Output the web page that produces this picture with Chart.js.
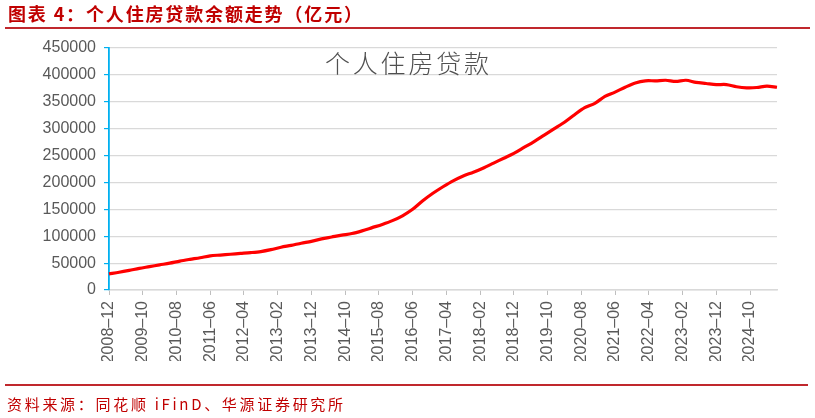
<!DOCTYPE html>
<html>
<head>
<meta charset="utf-8">
<script src="https://cdn.jsdelivr.net/npm/chart.js@4.4.1/dist/chart.umd.min.js"></script>
<style>
  html, body { margin: 0; padding: 0; background: #ffffff; }
  #page { position: relative; width: 815px; height: 418px; overflow: hidden; background: #fff; }
  #chartBox { position: absolute; left: 0; top: 0; width: 815px; height: 418px; }
  .title { position: absolute; left: 8px; top: 2px; font-family: "Noto Sans CJK SC", sans-serif; font-weight: 700; font-size: 18px; line-height: 23px; letter-spacing: 1.85px; color: #c00000; white-space: nowrap; z-index: 2; }
  .rule { position: absolute; left: 5px; width: 805px; height: 2px; background: #c0282d; z-index: 2; }
  .source { position: absolute; left: 7px; top: 394px; font-family: "Noto Sans CJK SC", sans-serif; font-size: 15px; line-height: 20px; letter-spacing: 2.7px; color: #c00000; white-space: nowrap; z-index: 2; }
  .inner { position: absolute; left: 325px; top: 47px; font-family: "Noto Sans CJK SC", sans-serif; font-weight: 300; font-size: 25px; line-height: 30px; letter-spacing: 2.8px; color: #505050; white-space: nowrap; z-index: 2; }
</style>
</head>
<body>
<div id="page">
  <div id="chartBox"><canvas id="c"></canvas></div>
  <div class="title">图表 4：个人住房贷款余额走势（亿元）</div>
  <div class="rule" style="top:27px;"></div>
  <div class="inner">个人住房贷款</div>
  <div class="rule" style="top:384px; width:803px;"></div>
  <div class="source">资料来源：同花顺 iFinD、华源证券研究所</div>
</div>
<script>
// Category range (monthly), first and last month
const startYear = 2008, startMonth = 12;
const endYear = 2025, endMonth = 6;

// Quarter-end dates with data
const quarterLabels = [
  "2008–12","2009–03","2009–06","2009–09","2009–12","2010–03","2010–06","2010–09","2010–12",
  "2011–03","2011–06","2011–09","2011–12","2012–03","2012–06","2012–09","2012–12",
  "2013–03","2013–06","2013–09","2013–12","2014–03","2014–06","2014–09","2014–12",
  "2015–03","2015–06","2015–09","2015–12","2016–03","2016–06","2016–09","2016–12",
  "2017–03","2017–06","2017–09","2017–12","2018–03","2018–06","2018–09","2018–12",
  "2019–03","2019–06","2019–09","2019–12","2020–03","2020–06","2020–09","2020–12",
  "2021–03","2021–06","2021–09","2021–12","2022–03","2022–06","2022–09","2022–12",
  "2023–03","2023–06","2023–09","2023–12","2024–03","2024–06","2024–09","2024–12",
  "2025–03","2025–06"
];

// 个人住房贷款余额（亿元）
const loanBalance = [
  30000, 33000, 36500, 40300, 43500, 46800, 50000, 53800, 57000,
  60000, 63500, 65000, 66500, 68000, 69500, 71500, 75000,
  79500, 83000, 87000, 90500, 95000, 98500, 102000, 105000,
  110000, 116000, 122000, 129000, 138000, 150000, 166000, 180000,
  192000, 203000, 212000, 219000, 227000, 236000, 245000, 254000,
  265000, 276000, 288000, 300000, 312000, 326000, 339000, 347000,
  360000, 368000, 377000, 385000, 389000, 389000, 390000, 388000,
  390000, 386000, 384000, 382000, 382000, 378000, 376000, 376500,
  379000, 377000
];

// Y tick values
const yTicks = [0, 50000, 100000, 150000, 200000, 250000, 300000, 350000, 400000, 450000];

// Build monthly category labels
const monthLabels = [];
{
  let y = startYear, m = startMonth;
  while (y < endYear || (y === endYear && m <= endMonth)) {
    monthLabels.push(y + "–" + String(m).padStart(2, "0"));
    m++; if (m > 12) { m = 1; y++; }
  }
}

const points = quarterLabels.map((l, k) => ({ x: l, y: loanBalance[k] }));

const tickFont = { family: "'Liberation Sans', Arial, sans-serif", size: 16 };

new Chart(document.getElementById("c"), {
  type: "line",
  data: {
    labels: monthLabels,
    datasets: [{
      label: "个人住房贷款",
      data: points,
      borderColor: "#ff0000",
      borderWidth: 3.2,
      pointRadius: 0,
      tension: 0.3,
      fill: false
    }]
  },
  options: {
    responsive: true,
    maintainAspectRatio: false,
    animation: false,
    layout: { padding: { left: 0, top: 48, right: 38, bottom: 57 } },
    plugins: { legend: { display: false }, tooltip: { enabled: false } },
    scales: {
      x: {
        type: "category",
        offset: false,
        afterBuildTicks: (scale) => { scale.ticks = scale.ticks.filter(t => t.value % 10 === 0); },
        afterFit: (scale) => { scale.height = 71; },
        grid: { display: true, drawOnChartArea: false, drawTicks: true, tickLength: 5, tickColor: "#bfbfbf" },
        border: { display: true, color: "#d9d9d9", width: 1.5 },
        ticks: { autoSkip: false, maxRotation: 90, minRotation: 90, padding: 6, color: "#595959", font: tickFont }
      },
      y: {
        min: 0,
        max: 450000,
        afterBuildTicks: (scale) => { scale.ticks = yTicks.map(v => ({ value: v })); },
        afterFit: (scale) => { scale.width = 109; },
        grid: { color: "#d9d9d9", lineWidth: 1.2, drawTicks: true, tickLength: 5, tickColor: "#00b0f0" },
        border: { display: true, color: "#00b0f0", width: 1.8 },
        ticks: { padding: 8, color: "#595959", font: tickFont, callback: (v) => String(v) }
      }
    }
  }
});
</script>
</body>
</html>
